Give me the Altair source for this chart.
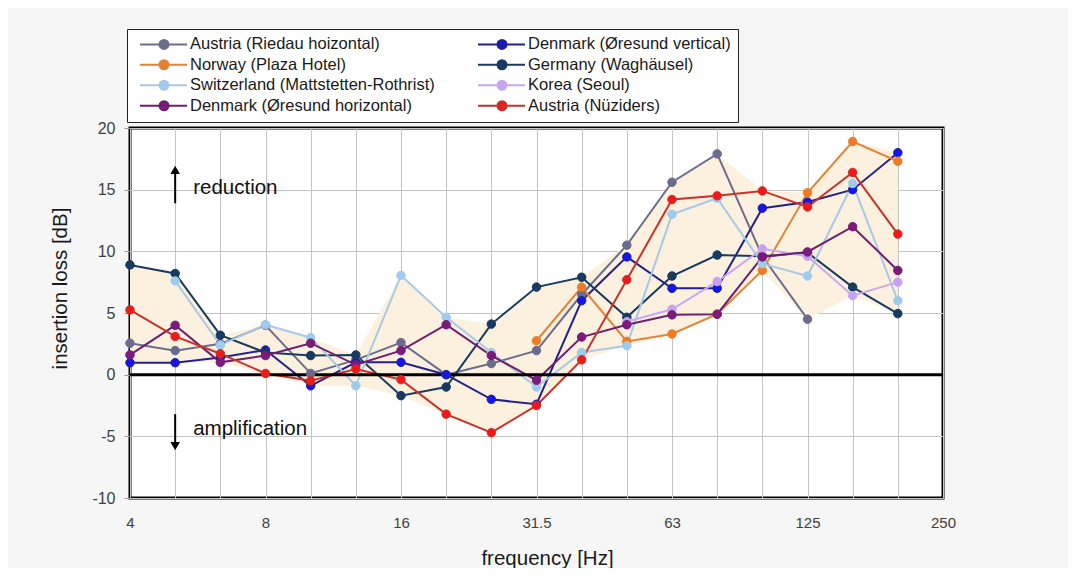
import json
import altair as alt
import pandas as pd

# third-octave bands with data (index 0..17); axis runs to 250 Hz (index 18)
FREQS = ["4", "5", "6.3", "8", "10", "12.5", "16", "20", "25", "31.5",
         "40", "50", "63", "80", "100", "125", "160", "200"]
AXIS_BANDS = FREQS + ["250"]
SHOWN_LABELS = ["4", "8", "16", "31.5", "63", "125", "250"]

# legend order (column by column, as in the reference legend box)
SERIES = [
    "Austria (Riedau hoizontal)",
    "Norway (Plaza Hotel)",
    "Switzerland (Mattstetten-Rothrist)",
    "Denmark (Øresund horizontal)",
    "Denmark (Øresund vertical)",
    "Germany (Waghäusel)",
    "Korea (Seoul)",
    "Austria (Nüziders)",
]

austria_riedau = [2.55, 1.95, 2.5, 4.0, 0.1, 1.2, 2.6, 0.0, 0.9, 1.95, 6.5, 10.5, 15.6, 17.9, 9.6, 4.5, None, None]
norway = [None, None, None, None, None, None, None, None, None, 2.75, 7.1, 2.7, 3.3, 4.9, 8.45, 14.75, 18.9, 17.3]
switzerland = [None, 7.6, 2.4, 4.05, 3.0, -0.9, 8.05, 4.65, 1.8, -1.0, 1.8, 2.35, 13.0, 14.3, 9.0, 8.0, 15.5, 6.0]
denmark_horiz = [1.6, 4.0, 1.0, 1.55, 2.55, 0.8, 1.95, 4.05, 1.55, -0.45, 3.05, 4.05, 4.85, 4.9, 9.55, 9.95, 12.0, 8.45]
denmark_vert = [0.97, 0.97, 1.4, 2.0, -0.9, 1.0, 1.0, 0.0, -2.0, -2.4, 6.0, 9.55, 7.0, 7.0, 13.5, 14.0, 15.0, 18.0]
germany = [8.9, 8.2, 3.2, 1.8, 1.55, 1.6, -1.7, -1.0, 4.1, 7.1, 7.9, 4.65, 8.0, 9.7, 9.6, 9.9, 7.1, 4.95]
korea = [None, None, None, None, None, None, None, None, None, None, None, 4.3, 5.3, 7.55, 10.2, 9.6, 6.4, 7.5]
austria_nuziders = [5.25, 3.1, 1.7, 0.1, -0.5, 0.45, -0.4, -3.2, -4.7, -2.5, 1.2, 7.7, 14.2, 14.5, 14.9, 13.6, 16.4, 11.4]

SERIES_VALUES = [austria_riedau, norway, switzerland, denmark_horiz,
                 denmark_vert, germany, korea, austria_nuziders]

LINE_COLORS = ["#6d6d8c", "#e0843a", "#a8c9e6", "#6e1f6e",
               "#22228a", "#173a5e", "#c8a8ee", "#c8322a"]
POINT_COLORS = ["#6b6b8f", "#f47a20", "#9ecbf0", "#7e1a7e",
                "#1515f0", "#173a5e", "#c9a0f2", "#f01818"]

# drawing order of the series (later ones on top), as positions in SERIES
DRAW_ORDER = [0, 4, 1, 5, 2, 6, 3, 7]

# annotations
ANNOT_TEXT = ["reduction", "amplification"]
ANNOT_IDX = [1, 1]
ANNOT_Y = [15.1, -4.4]
ARROW_FROM = [13.9, -3.2]
ARROW_TO = [16.6, -5.8]
ARROW_HEAD = ["triangle-up", "triangle-down"]

rows = []
for order, s in enumerate(DRAW_ORDER):
    name = SERIES[s]
    for i, v in enumerate(SERIES_VALUES[s]):
        if v is not None:
            rows.append({"series": name, "order": order, "idx": i,
                         "freq": FREQS[i], "value": v})
df = pd.DataFrame(rows)

annot = pd.DataFrame({"idx": ANNOT_IDX, "value": ANNOT_Y, "text": ANNOT_TEXT})
arrows = pd.DataFrame({"idx": ANNOT_IDX, "value": ARROW_FROM, "value2": ARROW_TO,
                       "head": ARROW_HEAD})

FONT = "Liberation Sans"
bands_js = json.dumps(AXIS_BANDS, ensure_ascii=False)
shown_js = json.dumps(SHOWN_LABELS, ensure_ascii=False)
x_label_expr = f"indexof({shown_js}, {bands_js}[datum.value]) >= 0 ? {bands_js}[datum.value] : ''"

YSCALE = alt.Scale(domain=[-10, 20], nice=False)
Y_AXIS = alt.Axis(values=[-10, -5, 0, 5, 10, 15, 20], title="insertion loss [dB]",
                  labelExpr="'' + datum.value",
                  grid=True, ticks=True, tickSize=6, tickColor="#999999",
                  domain=False, labelFontSize=16, labelColor="#404040",
                  labelPadding=9, labelFont=FONT, titleFont=FONT,
                  titleFontSize=20.5, titleFontWeight="normal",
                  titleColor="#1a1a1a", titleX=-70, titleY=160,
                  titleBaseline="middle", titleAlign="center")


def y_enc(field):
    return alt.Y(f"{field}:Q", scale=YSCALE, axis=Y_AXIS)


X = alt.X("idx:Q",
          scale=alt.Scale(domain=[0, len(AXIS_BANDS) - 1], nice=False, zero=False),
          axis=alt.Axis(values=list(range(len(AXIS_BANDS))), labelExpr=x_label_expr,
                        title="frequency [Hz]", grid=True, ticks=False, domain=False,
                        labelFlush=False, labelFontSize=15, labelColor="#404040",
                        labelPadding=17, labelFont=FONT, titleFont=FONT,
                        titleFontSize=20.5, titleFontWeight="normal",
                        titleColor="#1a1a1a", titleX=417, titleY=60,
                        titleBaseline="middle", titleAnchor="middle",
                        titleAlign="center"))

# legend symbol: short line with a dot in its middle (units of 5 px)
SYMBOL = ("M-0.45,0H8.95M3.45,0A0.9,0.9,0,1,1,5.25,0"
          "A0.9,0.9,0,1,1,3.45,0Z")


def make_legend():
    return alt.Legend(
        title=None, orient="none", legendX=-3, legendY=-99,
        columns=2, columnPadding=37, rowPadding=2.5, padding=7,
        strokeColor="#222222", fillColor="white",
        labelFont=FONT, labelFontSize=16.5, labelColor="#1a1a1a",
        labelLimit=600, labelOffset=39.5,
        symbolType=SYMBOL, symbolSize=100, symbolStrokeWidth=2)


stroke_enc = alt.Stroke("series:N", scale=alt.Scale(domain=SERIES, range=LINE_COLORS),
                        legend=make_legend())
fill_enc = alt.Fill("series:N", scale=alt.Scale(domain=SERIES, range=POINT_COLORS),
                    legend=make_legend())

base = alt.Chart(df)

envelope = base.transform_aggregate(
    lo="min(value)", hi="max(value)", groupby=["idx"]
).mark_area(color="#fcf0de", opacity=1).encode(
    x=X, y=y_enc("lo"), y2="hi:Q")

zero = alt.Chart(pd.DataFrame({"value": [0]})).mark_rule(
    color="black", strokeWidth=3).encode(y=y_enc("value"))

lines = base.mark_line(strokeWidth=2).encode(
    x=X, y=y_enc("value"), stroke=stroke_enc, detail="series:N")

points = base.mark_point(size=72, opacity=1, filled=True, shape="circle",
                         strokeWidth=1).encode(
    x=X, y=y_enc("value"), fill=fill_enc, stroke=stroke_enc,
    order=alt.Order("order:Q"))

arrow_shafts = alt.Chart(arrows).mark_rule(color="black", strokeWidth=2).encode(
    x=X, y=y_enc("value"), y2="value2:Q")
arrow_heads = alt.Chart(arrows).mark_point(
    filled=True, color="black", size=90, opacity=1).encode(
    x=X, y=y_enc("value2"),
    shape=alt.Shape("head:N", scale=None, legend=None))
labels = alt.Chart(annot).mark_text(
    align="left", baseline="middle", dx=18, font=FONT, fontSize=20.5,
    color="#111111").encode(x=X, y=y_enc("value"), text="text:N")

chart = alt.layer(envelope, lines, zero, points, arrow_shafts, arrow_heads, labels).properties(
    width=813, height=370,
    autosize=alt.AutoSizeParams(type="none"),
    padding={"left": 122, "top": 120, "right": 125, "bottom": 70},
).configure(
    background="#f6f6f6",
).configure_view(
    fill="white", stroke="black", strokeWidth=3,
).configure_axis(
    gridColor="#c4c4c4", gridWidth=1,
)

chart.save("out.html", embed_options={"renderer": "svg", "actions": False})
